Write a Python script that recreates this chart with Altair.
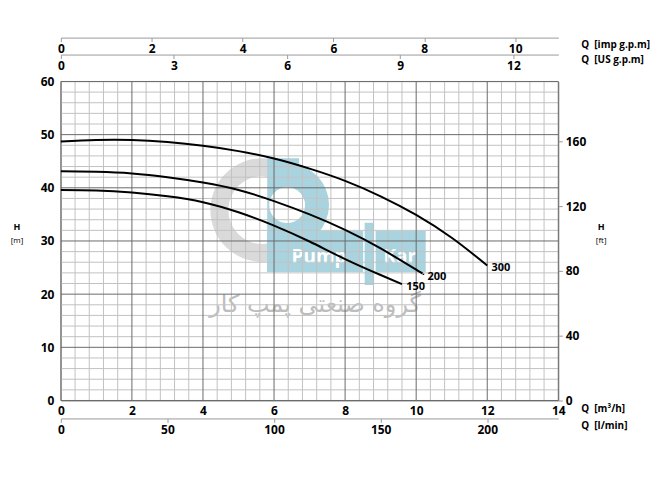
import math
import altair as alt
import pandas as pd

# ---------------- data ----------------
q300 = [0, 1, 2, 3, 4, 5, 6, 7, 8, 9, 10, 11, 12]
h300 = [48.7, 49.0, 49.0, 48.6, 47.9, 46.9, 45.5, 43.6, 41.3, 38.4, 34.9, 30.6, 25.4]
q200 = [0, 1, 2, 3, 4, 5, 6, 7, 8, 9, 10, 10.2]
h200 = [43.1, 43.0, 42.7, 42.0, 41.0, 39.6, 37.5, 35.0, 32.1, 28.6, 24.6, 23.8]
q150 = [0, 1, 2, 3, 4, 5, 6, 7, 8, 9, 9.6]
h150 = [39.6, 39.5, 39.1, 38.4, 37.3, 35.4, 32.9, 29.9, 26.6, 23.6, 21.9]

curve_names = ["300", "200", "150"]
label_q = [12.12, 10.32, 9.72]
label_h = [24.9, 23.25, 21.3]

m3h_ticks = [0, 2, 4, 6, 8, 10, 12, 14]
m_ticks = [0, 10, 20, 30, 40, 50, 60]
ft_ticks = [0, 40, 80, 120, 160]
imp_ticks = [0, 2, 4, 6, 8, 10]
us_ticks = [0, 3, 6, 9, 12]
lmin_ticks = [0, 50, 100, 150, 200]

Q_MAX = 14
H_MAX = 60
FT_MAX = H_MAX / 0.3048
IMP_MAX = 10.95
US_MAX = 13.19
LMIN_MAX = Q_MAX * 1000 / 60

# grid: minor every 0.4 m3/h and 2 m, major every 2 m3/h and 10 m
minor_x = [round(i * 0.4, 1) for i in range(36)]
minor_y = list(range(0, 61, 2))

rows = []
for name, qs, hs in [("300", q300, h300), ("200", q200, h200), ("150", q150, h150)]:
    for q, h in zip(qs, hs):
        rows.append({"curve": name, "Q": q, "H": h})
df = pd.DataFrame(rows)
lab_df = pd.DataFrame({"t": curve_names, "q": label_q, "h": label_h})
one = pd.DataFrame({"v": [0]})
vx_minor = pd.DataFrame({"x": [v for v in minor_x if v not in m3h_ticks]})
vx_major = pd.DataFrame({"x": m3h_ticks})
hy_minor = pd.DataFrame({"y": [v for v in minor_y if v not in m_ticks]})
hy_major = pd.DataFrame({"y": m_ticks})

FONT = "Open Sans"
W, Hh = 499, 320
AX = "#9a9a9a"
MINOR = "#c2c2c2"
MAJOR = "#6a6a6a"

xs = alt.Scale(domain=[0, Q_MAX], nice=False, zero=True)
ys = alt.Scale(domain=[0, H_MAX], nice=False, zero=True)

x_main_axis = alt.Axis(
    orient="bottom", values=m3h_ticks, grid=False, format="d",
    ticks=False, domainColor=AX,
    labelFont=FONT, labelFontSize=12, labelFontWeight="bold", labelColor="black",
    labelPadding=5, labelFlush=False, labelOverlap=False, title=None,
)
y_main_axis = alt.Axis(
    orient="left", values=m_ticks, grid=False, format="d",
    ticks=False, domainColor=AX,
    labelFont=FONT, labelFontSize=12, labelFontWeight="bold", labelColor="black",
    labelPadding=7, labelOverlap=False, labelFlush=False, title=None,
)

def sec_axis(orient, values, offset=0):
    return alt.Axis(
        orient=orient, values=values, grid=False, offset=offset, format="d",
        ticks=True, tickSize=4, tickColor=AX, domainColor=AX,
        labelFont=FONT, labelFontSize=12, labelFontWeight="bold", labelColor="black",
        labelPadding=2 if orient == "bottom" else 3, labelFlush=False, labelOverlap=False,
        title=None,
    )

BLUE = "#a9d3de"
GREY = "#dadada"

# ---------------- watermark ----------------
gear = alt.Chart(one).mark_arc(radius=52, radius2=34, theta=0, theta2=2 * math.pi, color=GREY).encode(
    x=alt.value(202), y=alt.value(129))
pbar = alt.Chart(one).mark_rect(color=BLUE).encode(
    x=alt.value(207), x2=alt.value(239), y=alt.value(77), y2=alt.value(191))
pbowl = alt.Chart(one).mark_arc(radius=42, radius2=0, theta=0, theta2=math.pi, color=BLUE).encode(
    x=alt.value(227), y=alt.value(124))
phole = alt.Chart(one).mark_arc(radius=18, radius2=0, theta=0, theta2=2 * math.pi, color="white").encode(
    x=alt.value(227), y=alt.value(124))
pbase = alt.Chart(one).mark_rect(color=BLUE).encode(
    x=alt.value(207), x2=alt.value(366), y=alt.value(150), y2=alt.value(191))
psep = alt.Chart(one).mark_rect(color=BLUE, stroke="white", strokeWidth=1.5).encode(
    x=alt.value(304), x2=alt.value(315), y=alt.value(141), y2=alt.value(205))
pump_t = alt.Chart(one).mark_text(font=FONT, fontSize=19, fontWeight="bold", color="white").encode(
    x=alt.value(259), y=alt.value(176), text=alt.value("Pump"))
kar_t = alt.Chart(one).mark_text(font=FONT, fontSize=19, fontWeight="bold", color="white").encode(
    x=alt.value(340), y=alt.value(176), text=alt.value("Kar"))
fa_t = alt.Chart(one).mark_text(font="DejaVu Sans", fontSize=24, color="#bdbdbd").encode(
    x=alt.value(255), y=alt.value(224), text=alt.value("گروه صنعتی پمپ کار"))

# ---------------- grid ----------------
def vgrid(d, color):
    return alt.Chart(d).mark_rule(color=color, strokeWidth=1).encode(
        x=alt.X("x:Q", scale=xs, axis=None))

def hgrid(d, color):
    return alt.Chart(d).mark_rule(color=color, strokeWidth=1).encode(
        y=alt.Y("y:Q", scale=ys, axis=None))

grid = [vgrid(vx_minor, MINOR), hgrid(hy_minor, MINOR), vgrid(vx_major, MAJOR), hgrid(hy_major, MAJOR)]

# ---------------- curves ----------------
lines = alt.Chart(df).mark_line(color="black", strokeWidth=2, interpolate="natural").encode(
    x=alt.X("Q:Q", scale=xs, axis=x_main_axis),
    y=alt.Y("H:Q", scale=ys, axis=y_main_axis),
    detail="curve:N",
)
labels = alt.Chart(lab_df).mark_text(align="left", baseline="middle", font=FONT, fontSize=11,
                                     fontWeight="bold", color="black").encode(
    x=alt.X("q:Q", scale=xs, axis=None),
    y=alt.Y("h:Q", scale=ys, axis=None),
    text="t:N",
)

# ---------------- secondary axes ----------------
ft_layer = alt.Chart(one).mark_point(opacity=0).encode(
    y=alt.Y("v:Q", scale=alt.Scale(domain=[0, FT_MAX], nice=False), axis=sec_axis("right", ft_ticks)))
imp_layer = alt.Chart(one).mark_point(opacity=0).encode(
    x=alt.X("v:Q", scale=alt.Scale(domain=[0, IMP_MAX], nice=False), axis=sec_axis("bottom", imp_ticks, -364)))
us_layer = alt.Chart(one).mark_point(opacity=0).encode(
    x=alt.X("v:Q", scale=alt.Scale(domain=[0, US_MAX], nice=False), axis=sec_axis("bottom", us_ticks, -347)))
lmin_layer = alt.Chart(one).mark_point(opacity=0).encode(
    x=alt.X("v:Q", scale=alt.Scale(domain=[0, LMIN_MAX], nice=False), axis=sec_axis("bottom", lmin_ticks, 18)))

# ---------------- axis titles ----------------
def note(txt, x, y, size=10, weight="bold", align="left"):
    return alt.Chart(one).mark_text(font=FONT, fontSize=size, fontWeight=weight, align=align,
                                    baseline="middle", color="black").encode(
        x=alt.value(x), y=alt.value(y), text=alt.value(txt))

notes = [
    note("Q\u00a0 [imp g.p.m]", 522, -37),
    note("Q\u00a0 [US g.p.m]", 522, -22),
    note("Q\u00a0 [m³/h]", 522, 329),
    note("Q\u00a0 [l/min]", 522, 346),
    note("H", -44, 146, 9, "bold", "center"),
    note("[m]", -44, 160, 8, "normal", "center"),
    note("H", 542, 146, 9, "bold", "center"),
    note("[ft]", 542, 160, 8, "normal", "center"),
]

chart = alt.layer(
    gear, pbar, pbowl, phole, pbase, psep, pump_t, kar_t, fa_t,
    *grid, lines, labels, ft_layer, imp_layer, us_layer, lmin_layer, *notes,
).resolve_scale(x="independent", y="independent").properties(
    width=W, height=Hh,
    autosize=alt.AutoSizeParams(type="none"),
    padding={"left": 53, "top": 73, "right": 100, "bottom": 60},
).configure_view(stroke=None).configure(background="white")

chart.save("out.html", embed_options={"renderer": "svg", "actions": False})
